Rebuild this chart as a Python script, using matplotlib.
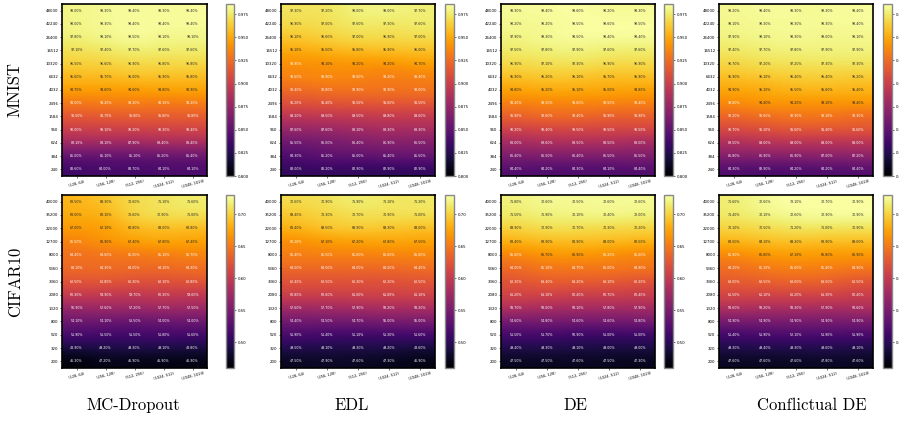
import numpy as np
import matplotlib
matplotlib.use("Agg")
import matplotlib.pyplot as plt
from matplotlib import colors as mcolors

methods = ["MC-Dropout", "EDL", "DE", "Conflictual DE"]
datasets = ["MNIST", "CIFAR10"]
x_labels = ["(128, 64)", "(256, 128)", "(512, 256)", "(1024, 512)", "(2048, 1024)"]
mnist_sizes = ["48000", "42240", "26400", "16512", "10320", "6432", "4032",
               "2496", "1584", "960", "624", "384", "240"]
cifar_sizes = ["40000", "35200", "22000", "12700", "8000", "5360", "3360",
               "2080", "1320", "800", "520", "320", "200"]

mnist_mc = [
    [98.0, 98.3, 98.4, 98.3, 98.4],
    [98.0, 98.3, 98.4, 98.4, 98.4],
    [97.8, 98.1, 98.5, 98.1, 98.1],
    [97.1, 97.4, 97.7, 97.6, 97.6],
    [96.5, 96.6, 96.9, 96.8, 96.8],
    [95.6, 95.7, 96.0, 95.9, 95.8],
    [94.7, 94.6, 94.6, 94.8, 94.9],
    [93.0, 93.2, 93.3, 93.1, 93.2],
    [91.5, 91.7, 91.8, 91.8, 91.8],
    [90.0, 90.1, 90.2, 90.3, 90.4],
    [88.1, 88.1, 87.9, 88.4, 88.4],
    [85.0, 85.1, 85.1, 85.2, 85.4],
    [83.6, 84.0, 83.7, 84.1, 84.1],
]
mnist_edl = [
    [97.3, 97.2, 98.0, 98.0, 97.7],
    [96.9, 97.0, 97.6, 97.3, 97.6],
    [96.1, 96.6, 97.0, 96.9, 97.0],
    [95.1, 95.5, 95.8, 95.9, 96.0],
    [93.9, 94.1, 94.2, 94.2, 94.7],
    [93.6, 93.9, 93.6, 93.2, 93.4],
    [92.4, 92.8, 92.9, 92.9, 93.0],
    [91.2, 91.4, 91.5, 91.6, 91.5],
    [89.2, 89.5, 89.5, 89.8, 89.6],
    [87.6, 87.6, 88.1, 88.3, 88.3],
    [85.5, 86.0, 86.4, 86.9, 86.5],
    [84.3, 85.2, 85.0, 85.4, 85.5],
    [83.0, 83.2, 82.9, 82.9, 82.9],
]
mnist_de = [
    [98.3, 98.4, 98.6, 98.2, 98.3],
    [98.2, 98.2, 98.5, 98.6, 98.5],
    [97.9, 98.3, 98.5, 98.4, 98.4],
    [97.5, 97.8, 97.9, 97.6, 97.6],
    [96.9, 97.1, 97.3, 96.9, 96.9],
    [95.9, 96.2, 96.1, 95.7, 95.9],
    [94.8, 95.2, 95.1, 95.0, 94.8],
    [93.4, 93.5, 93.6, 93.5, 93.4],
    [91.9, 92.6, 92.4, 91.9, 91.9],
    [90.2, 90.4, 90.5, 90.5, 90.5],
    [88.0, 88.6, 88.5, 88.5, 88.0],
    [86.4, 86.5, 86.4, 86.5, 86.5],
    [84.4, 84.2, 84.3, 84.1, 84.4],
]
mnist_cde = [
    [98.2, 98.4, 98.3, 98.3, 98.4],
    [98.1, 98.3, 98.3, 98.3, 98.4],
    [97.9, 98.1, 98.3, 98.0, 98.1],
    [97.4, 97.7, 97.8, 97.9, 97.9],
    [96.7, 97.2, 97.2, 97.3, 97.3],
    [95.9, 96.1, 96.4, 96.4, 96.2],
    [94.9, 95.1, 95.5, 95.6, 95.4],
    [93.8, 94.4, 94.2, 94.1, 94.4],
    [92.2, 92.6, 92.9, 93.1, 92.3],
    [90.7, 91.1, 91.6, 91.4, 91.6],
    [88.5, 89.0, 89.0, 89.0, 89.0],
    [86.8, 86.9, 86.9, 87.0, 87.2],
    [84.3, 83.9, 84.2, 84.2, 84.4],
]
cifar_mc = [
    [68.5, 69.3, 70.6, 71.1, 71.6],
    [68.0, 68.1, 70.6, 70.9, 71.0],
    [67.0, 67.1, 68.8, 69.0, 68.8],
    [65.5, 66.9, 67.4, 67.8, 67.4],
    [64.4, 64.6, 65.0, 65.1, 65.7],
    [64.1, 64.3, 64.0, 64.1, 64.3],
    [62.5, 62.8, 62.3, 62.1, 62.8],
    [60.3, 59.9, 59.7, 60.3, 59.6],
    [56.9, 57.6, 57.2, 57.7, 57.5],
    [54.1, 54.1, 53.5, 54.0, 54.0],
    [51.9, 51.5, 51.5, 51.8, 51.6],
    [48.9, 49.2, 49.3, 49.1, 48.8],
    [46.3, 47.2, 46.9, 46.9, 46.9],
]
cifar_edl = [
    [70.6, 70.9, 71.9, 71.1, 71.3],
    [69.4, 70.3, 70.7, 70.9, 71.0],
    [68.4, 69.5, 69.9, 69.3, 69.0],
    [66.1, 67.1, 67.2, 67.8, 67.5],
    [65.4, 65.5, 65.6, 65.6, 65.8],
    [64.0, 64.0, 64.0, 64.0, 64.4],
    [62.4, 62.5, 62.3, 62.2, 62.5],
    [60.8, 60.6, 61.0, 61.0, 61.1],
    [57.6, 57.7, 57.9, 58.2, 58.2],
    [54.4, 54.5, 54.7, 55.0, 55.0],
    [51.9, 51.4, 51.1, 51.3, 51.6],
    [49.5, 49.1, 49.3, 49.2, 48.6],
    [47.5, 47.9, 47.6, 47.3, 46.9],
]
cifar_de = [
    [71.8, 72.6, 72.5, 72.6, 72.6],
    [71.5, 71.9, 72.1, 72.4, 72.0],
    [69.9, 70.9, 70.7, 70.3, 70.2],
    [68.4, 68.9, 68.9, 69.0, 68.5],
    [65.6, 66.7, 66.9, 66.2, 65.6],
    [64.0, 65.1, 64.7, 65.0, 64.9],
    [62.3, 63.4, 63.2, 63.1, 62.2],
    [61.2, 61.1, 60.4, 60.7, 60.4],
    [58.7, 58.0, 58.1, 57.8, 57.9],
    [54.6, 54.8, 54.6, 54.6, 54.8],
    [51.5, 51.7, 50.9, 51.0, 51.0],
    [49.4, 49.3, 49.1, 49.0, 49.0],
    [47.5, 47.5, 47.6, 47.5, 47.3],
]
cifar_cde = [
    [71.6, 72.6, 73.1, 72.7, 72.9],
    [71.4, 72.1, 72.6, 72.9, 72.9],
    [70.1, 70.5, 71.2, 71.0, 70.9],
    [68.5, 69.1, 69.2, 68.9, 69.0],
    [65.9, 66.8, 67.1, 66.8, 66.9],
    [64.2, 65.1, 65.6, 65.4, 64.9],
    [63.0, 63.5, 63.6, 63.5, 62.5],
    [61.5, 61.1, 61.2, 61.3, 60.4],
    [58.6, 58.2, 58.3, 57.9, 58.6],
    [54.9, 54.9, 54.9, 54.9, 54.9],
    [51.4, 51.9, 52.1, 51.9, 51.9],
    [49.3, 49.4, 49.3, 49.6, 49.1],
    [47.6, 47.6, 47.6, 47.8, 47.6],
]

grid = [[mnist_mc, mnist_edl, mnist_de, mnist_cde],
        [cifar_mc, cifar_edl, cifar_de, cifar_cde]]
row_sizes = [mnist_sizes, cifar_sizes]
ranges = [(0.80, 0.986), (0.46, 0.73)]
cb_ticks = [[0.800, 0.825, 0.850, 0.875, 0.900, 0.925, 0.950, 0.975],
            [0.50, 0.55, 0.60, 0.65, 0.70]]
cb_fmt = ["{:.3f}", "{:.2f}"]

W, H = 899, 423
fig = plt.figure(figsize=(W / 100, H / 100), dpi=100)

hm_x = [(62, 207), (281, 435), (501, 655), (719, 873)]
cb_x = [(226, 234), (445, 454), (664, 673), (883, 892)]
row_y = [(4, 176), (195, 368)]

cmap = plt.get_cmap("inferno")

def rel_lum(c):
    rgb = np.array(c[:3])
    rgb = np.where(rgb <= 0.03928, rgb / 12.92, ((rgb + 0.055) / 1.055) ** 2.4)
    return 0.2126 * rgb[0] + 0.7152 * rgb[1] + 0.0722 * rgb[2]

for r in range(2):
    y0, y1 = row_y[r]
    vmin, vmax = ranges[r]
    norm = mcolors.Normalize(vmin=vmin, vmax=vmax)
    for c in range(4):
        x0, x1 = hm_x[c]
        ax = fig.add_axes([x0 / W, 1 - y1 / H, (x1 - x0) / W, (y1 - y0) / H])
        data = np.array(grid[r][c]) / 100.0
        im = ax.imshow(data, cmap=cmap, norm=norm, aspect="auto",
                       interpolation="bicubic")
        nr, nc = data.shape
        for i in range(nr):
            for j in range(nc):
                col = cmap(norm(data[i, j]))
                tc = "#262626" if rel_lum(col) > 0.408 else "white"
                ax.text(j, i, f"{data[i, j] * 100:.2f}%", ha="center", va="center",
                        fontsize=2.3, color=tc)
        ax.set_xticks(range(nc))
        ax.set_xticklabels(x_labels, fontsize=2.6, rotation=15)
        ax.set_yticks(range(nr))
        ax.set_yticklabels(row_sizes[r], fontsize=2.8)
        ax.tick_params(length=1.5, width=0.4, pad=1)
        for s in ax.spines.values():
            s.set_linewidth(1.2)
        cx0, cx1 = cb_x[c]
        cax = fig.add_axes([cx0 / W, 1 - y1 / H, (cx1 - cx0) / W, (y1 - y0) / H])
        cb = fig.colorbar(im, cax=cax)
        cb.set_ticks(cb_ticks[r])
        cb.set_ticklabels([cb_fmt[r].format(t) for t in cb_ticks[r]])
        cb.ax.tick_params(labelsize=2.8, length=1.5, width=0.4, pad=1)
        cb.outline.set_linewidth(1.0)
        cb.outline.set_edgecolor("#888888")

label_font = dict(family="cmr10", fontsize=12)
fig.text(15 / W, 1 - 90 / H, datasets[0], rotation=90, ha="center", va="center", **label_font)
fig.text(15 / W, 1 - 282 / H, datasets[1], rotation=90, ha="center", va="center", **label_font)
title_x = [133, 352, 575, 812]
for c in range(4):
    fig.text(title_x[c] / W, 1 - 405 / H, methods[c], ha="center", va="center", **label_font)

fig.savefig("out.png", dpi=100)
